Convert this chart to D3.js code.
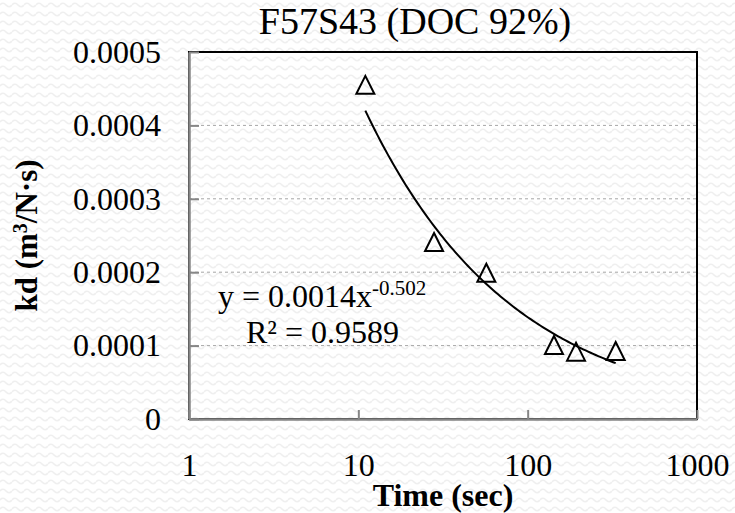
<!DOCTYPE html>
<html>
<head>
<meta charset="utf-8">
<script src="https://cdn.jsdelivr.net/npm/d3@7"></script>
<style>
  html, body { margin: 0; padding: 0; background: #ffffff; }
  svg { display: block; }
  text { font-family: "Liberation Serif", "Times New Roman", serif; fill: #000; }
</style>
</head>
<body>
<svg id="chart" width="735" height="513"></svg>
<script>
// Measured kd values over elapsed time
const timeSec = [11, 28, 57, 143, 193, 331];
const kdValues = [0.000454, 0.000240, 0.000198, 0.0000995, 0.0000905, 0.0000915];

// Power-law trendline: kd = a * t^b
const fitA = 0.0014;
const fitB = -0.502;
const fitR2 = "0.9589";

// Axis ticks and labels
const xTicks = [1, 10, 100, 1000];
const xTickLabels = ["1", "10", "100", "1000"];
const yTicks = [0, 0.0001, 0.0002, 0.0003, 0.0004, 0.0005];
const yTickLabels = ["0", "0.0001", "0.0002", "0.0003", "0.0004", "0.0005"];

const chartTitle = "F57S43 (DOC 92%)";
const xTitle = "Time (sec)";

const W = 735, H = 513;
const plot = { left: 189, right: 697, top: 52, bottom: 419 };
const serif = '"Liberation Serif", "Times New Roman", serif';

const svg = d3.select("#chart");

// faint wavy background texture
const defs = svg.append("defs");
const pat = defs.append("pattern")
  .attr("id", "waves").attr("patternUnits", "userSpaceOnUse")
  .attr("width", 12).attr("height", 9);
pat.append("rect").attr("width", 12).attr("height", 9).attr("fill", "#ffffff");
pat.append("path")
  .attr("d", "M0,5 Q3,1.5 6,5 T12,5")
  .attr("fill", "none").attr("stroke", "#efefef").attr("stroke-width", 1.6);
svg.append("rect").attr("width", W).attr("height", H).attr("fill", "url(#waves)");

const x = d3.scaleLog().domain([1, 1000]).range([plot.left, plot.right]);
const y = d3.scaleLinear().domain([0, 0.0005]).range([plot.bottom, plot.top]);

// horizontal dashed gridlines
svg.append("g").selectAll("line")
  .data(yTicks.filter(v => v > 0 && v < 0.0005))
  .join("line")
  .attr("x1", plot.left).attr("x2", plot.right)
  .attr("y1", d => y(d)).attr("y2", d => y(d))
  .attr("stroke", "#a6a6a6").attr("stroke-width", 1)
  .attr("stroke-dasharray", "3,3");

// plot area frame
svg.append("rect")
  .attr("x", plot.left).attr("y", plot.top)
  .attr("width", plot.right - plot.left).attr("height", plot.bottom - plot.top)
  .attr("fill", "none").attr("stroke", "#000").attr("stroke-width", 2);

// y axis
const yAxis = d3.axisLeft(y)
  .tickValues(yTicks)
  .tickFormat((d, i) => yTickLabels[i])
  .tickSizeInner(-10).tickSizeOuter(0).tickPadding(28);
const gy = svg.append("g").attr("transform", `translate(${plot.left},0)`).call(yAxis);
gy.attr("font-family", serif);
gy.select(".domain").attr("stroke", "#868686").attr("stroke-width", 2.5);
gy.selectAll(".tick line").attr("stroke", "#868686").attr("stroke-width", 2);
gy.selectAll(".tick text")
  .style("font-family", serif)
  .style("font-size", "32px").attr("fill", "#000");

// x axis (log)
const xAxis = d3.axisBottom(x)
  .tickValues(xTicks)
  .tickFormat((d, i) => xTickLabels[i])
  .tickSizeInner(-9).tickSizeOuter(0);
const gx = svg.append("g").attr("transform", `translate(0,${plot.bottom})`).call(xAxis);
gx.attr("font-family", serif);
gx.select(".domain").attr("stroke", "#868686").attr("stroke-width", 2.5);
gx.selectAll(".tick line").attr("stroke", "#868686").attr("stroke-width", 2);
gx.selectAll(".tick text")
  .attr("y", 57).attr("dy", null)
  .style("font-family", serif)
  .style("font-size", "32px").attr("fill", "#000");

// trendline across the observed time range
const tMin = d3.min(timeSec), tMax = d3.max(timeSec);
const curveT = d3.range(0, 101).map(i => tMin * Math.pow(tMax / tMin, i / 100));
const line = d3.line().x(d => x(d)).y(d => y(fitA * Math.pow(d, fitB)));
svg.append("path")
  .datum(curveT)
  .attr("d", line)
  .attr("fill", "none").attr("stroke", "#000").attr("stroke-width", 2);

// triangle markers
const tri = (w, h) => `M0,${-h * 0.55}L${w / 2},${h * 0.45}L${-w / 2},${h * 0.45}Z`;
svg.append("g").selectAll("path")
  .data(timeSec.map((t, i) => [t, kdValues[i]]))
  .join("path")
  .attr("transform", d => `translate(${x(d[0])},${y(d[1])})`)
  .attr("d", tri(18, 18))
  .attr("fill", "none").attr("stroke", "#000").attr("stroke-width", 2);

// trendline equation and R²
const eq = svg.append("text").attr("x", 218).attr("y", 307).style("font-size", "32px");
eq.append("tspan").text(`y = ${fitA}x`);
eq.append("tspan").attr("dy", -12).style("font-size", "21px").text(`${fitB}`);
svg.append("text").attr("x", 246).attr("y", 343).style("font-size", "32px")
  .text(`R² = ${fitR2}`);

// chart title
svg.append("text")
  .attr("x", 415).attr("y", 34).attr("text-anchor", "middle")
  .style("font-size", "38px").text(chartTitle);

// axis titles
svg.append("text")
  .attr("x", 443).attr("y", 506).attr("text-anchor", "middle")
  .style("font-size", "32px").style("font-weight", "bold").text(xTitle);

const yt = svg.append("text")
  .attr("transform", `translate(37,${(plot.top + plot.bottom) / 2}) rotate(-90)`)
  .attr("text-anchor", "middle")
  .style("font-size", "31px").style("font-weight", "bold");
yt.append("tspan").text("kd (m");
yt.append("tspan").attr("dy", -10).style("font-size", "20px").text("3");
yt.append("tspan").attr("dy", 10).text("/N·s)");
</script>
</body>
</html>
